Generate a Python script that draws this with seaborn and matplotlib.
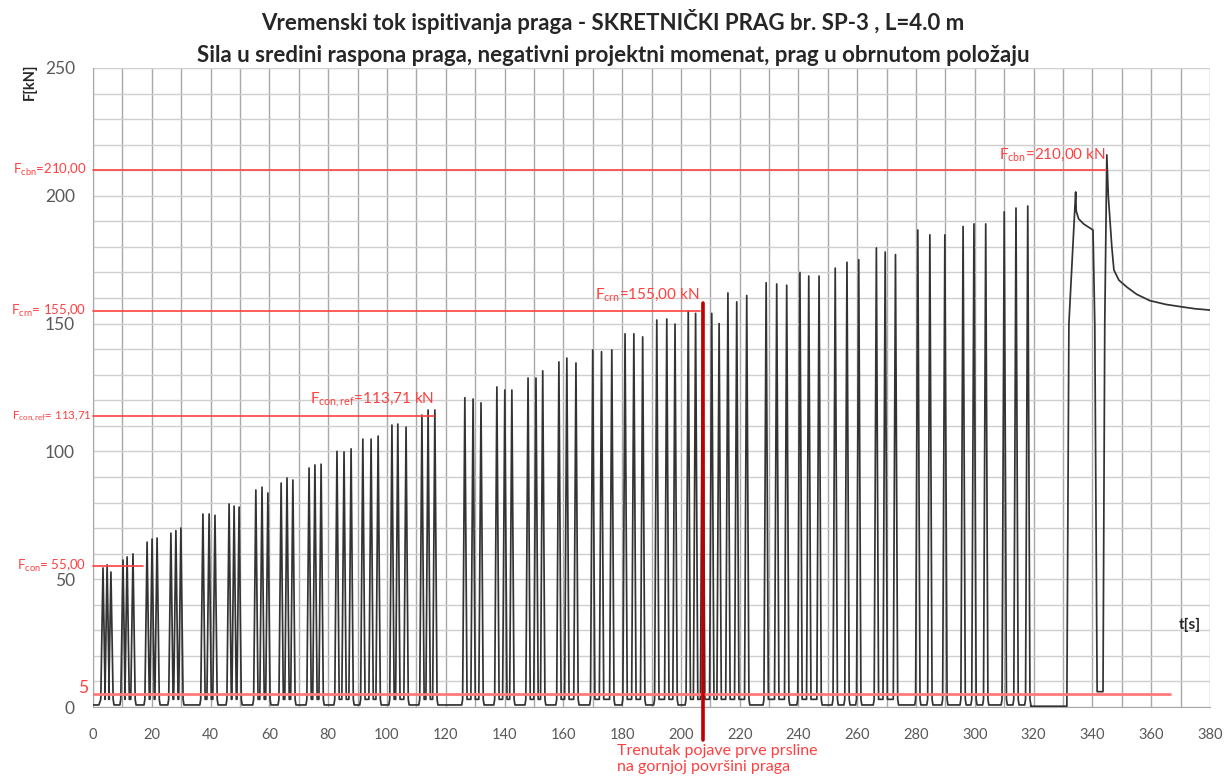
import numpy as np
import pandas as pd
import matplotlib
matplotlib.use("Agg")
import matplotlib.pyplot as plt
import seaborn as sns

# vrhovi ciklusa (t [s], F [kN]) - po tri ciklusa u svakoj grupi
peak_t = [3.4, 4.8, 6.1, 10.2, 11.6, 13.6, 18.4, 20.1, 21.8, 26.5, 28.2, 29.9,
          37.4, 39.5, 41.5, 46.3, 48.0, 49.7, 55.4, 57.5, 59.5, 64.0, 66.0, 68.0,
          73.5, 75.5, 77.6, 83.0, 85.4, 87.8, 91.8, 94.6, 97.0, 101.7, 103.7, 106.5,
          111.9, 114.0, 116.3, 126.5, 129.3, 132.0, 137.4, 140.1, 142.5,
          148.0, 150.7, 153.0, 158.5, 161.2, 164.3, 170.0, 173.0, 176.5,
          181.0, 184.0, 187.0, 191.8, 195.2, 198.0, 202.5, 205.0, 207.4,
          210.5, 213.0, 216.0, 219.0, 222.4, 229.0, 232.6, 236.0,
          240.5, 243.5, 247.0, 252.5, 256.5, 260.5, 266.5, 269.5, 273.0,
          280.6, 284.7, 289.8, 296.0, 299.7, 303.7, 310.0, 314.0, 318.0]
peak_f = [54.4, 55.6, 52.8, 57.5, 58.7, 59.9, 64.5, 65.7, 66.1, 68.0, 69.0, 70.0,
          75.5, 75.5, 75.0, 79.4, 78.6, 78.2, 84.9, 86.0, 83.7, 87.6, 89.6, 88.8,
          93.5, 94.7, 95.0, 100.0, 99.8, 101.0, 104.8, 104.8, 106.0, 110.3, 110.7, 109.5,
          114.2, 116.2, 116.2, 121.0, 120.5, 119.0, 125.2, 124.0, 124.0,
          128.7, 128.7, 131.5, 135.0, 136.5, 134.6, 139.7, 139.0, 139.7,
          146.0, 146.0, 144.8, 151.4, 151.8, 149.8, 155.0, 154.0, 158.0,
          154.0, 150.0, 162.0, 158.5, 161.0, 166.0, 165.5, 165.0,
          170.0, 168.6, 168.6, 171.7, 174.0, 175.0, 179.6, 178.0, 177.0,
          186.6, 184.7, 184.7, 188.0, 189.0, 189.0, 193.7, 195.2, 196.0]

# zavrsni dio - staticko opterecenje do loma
tail_t = [319.0, 331.3, 332.0, 334.3, 334.5, 335.3, 337.0, 340.2, 340.8, 341.6,
          343.6, 344.2, 344.9, 345.4, 346.6, 347.3, 349.0, 351.7, 355.0, 359.5,
          365.0, 370.7, 375.0, 380.0]
tail_f = [0.3, 0.3, 150.0, 201.5, 194.0, 191.0, 189.0, 186.6, 150.0, 6.0,
          6.0, 150.0, 216.0, 200.0, 180.0, 171.0, 167.0, 164.3, 161.5, 159.0,
          157.5, 156.5, 155.8, 155.3]

# referentne sile
ref_f = [210.0, 155.0, 113.71, 55.0]
ref_end = [344.5, 206.5, 116.0, 17.0]
ref_left = ["F$_\\mathrm{cbn}$=210,00", "F$_\\mathrm{crn}$= 155,00",
            "F$_\\mathrm{con,ref}$= 113,71", "F$_\\mathrm{con}$= 55,00"]
ref_left_x = [-2.3, -2.3, -0.4, -2.3]
ref_left_size = [9.5, 9.5, 8.3, 9.5]
ref_in = ["F$_\\mathrm{cbn}$=210,00 kN", "F$_\\mathrm{crn}$=155,00 kN",
          "F$_\\mathrm{con,ref}$=113,71 kN", None]
crack_t = 207.4

# --- slaganje vremenskog toka iz vrhova ---
rise = 0.75
valley = 3.0
base = 0.8
ts, fs = [0.0, 2.0], [base, base]
prev = None
for t, f in zip(peak_t, peak_f):
    if prev is not None and t - prev > 3.6:
        ts += [prev + rise + 0.3, t - rise - 0.3]
        fs += [base, base]
    ts += [t - rise, t, t + rise]
    fs += [valley, f, valley]
    prev = t
ts += [prev + rise + 0.3]
fs += [base]
ts += tail_t
fs += tail_f
df = pd.DataFrame({"t": ts, "F": fs})

sns.set_style("white")
plt.rcParams["font.family"] = ["Lato", "DejaVu Sans"]
plt.rcParams["mathtext.fontset"] = "custom"
plt.rcParams["mathtext.rm"] = "Lato"
plt.rcParams["mathtext.it"] = "Lato:italic"
plt.rcParams["mathtext.bf"] = "Lato:bold"

fig = plt.figure(figsize=(12.26, 7.8), dpi=100)
ax = fig.add_axes([93 / 1226, 1 - 707 / 780, (1210 - 93) / 1226, (707 - 68) / 780])

red = "#ff4040"
sns.lineplot(data=df, x="t", y="F", sort=False, estimator=None,
             color="#333333", linewidth=1.25, ax=ax, zorder=3)

ax.set_xlim(0, 380)
ax.set_ylim(0, 250)
ax.set_xticks(np.arange(0, 381, 20))
ax.set_xticks(np.arange(0, 381, 10), minor=True)
ax.set_yticks(np.arange(0, 251, 50))
ax.set_yticks(np.arange(0, 251, 10), minor=True)
ax.grid(True, which="both", axis="x", color="#a8a8a8", linewidth=1.0)
ax.grid(True, which="both", axis="y", color="#cfcfcf", linewidth=1.0)
ax.set_axisbelow(True)
for s in ["top", "right"]:
    ax.spines[s].set_visible(False)
for s in ["left", "bottom"]:
    ax.spines[s].set_color("#a8a8a8")
ax.tick_params(axis="both", which="both", direction="out", length=5,
               color="#a8a8a8", colors="#595959")
ax.tick_params(axis="x", labelsize=10.5, pad=10)
ax.tick_params(axis="y", labelsize=12.5, pad=8)
ax.set_xlabel("")
ax.set_ylabel("")

# referentne linije
for f, e, lab, lx, lsz, lin in zip(ref_f, ref_end, ref_left, ref_left_x,
                                   ref_left_size, ref_in):
    ax.plot([0, e], [f, f], color=red, linewidth=1.2, zorder=4, clip_on=False)
    ax.text(lx, f, lab, color=red, fontsize=lsz, ha="right", va="center",
            clip_on=False)
    if lin is not None:
        ax.text(e, f + 3, lin, color=red, fontsize=11, ha="right", va="bottom")

ax.plot([0, 366.5], [5, 5], color="#ff7a7a", linewidth=2.0, zorder=4)
ax.text(-1.5, 7.5, "5", color=red, fontsize=12.5, ha="right", va="center")

# trenutak pojave prve prsline
ax.plot([crack_t, crack_t], [158, -13], color="#c00000", linewidth=2.6,
        zorder=5, clip_on=False)
ax.text(178.3, -14.5, "Trenutak pojave prve prsline\nna gornjoj površini praga",
        color=red, fontsize=11.5, ha="left", va="top", linespacing=1.2,
        clip_on=False)

ax.text(373, 32, "t[s]", fontsize=11, fontweight="bold", ha="center",
        va="center", color="#262626")
fig.text(30 / 1226, 1 - 82 / 780, "F[kN]", rotation=90, fontsize=10.5,
         fontweight="bold", ha="center", va="center", color="#262626")

fig.text(0.5, 1 - 22 / 780,
         "Vremenski tok ispitivanja praga - SKRETNIČKI PRAG br. SP-3 , L=4.0 m",
         ha="center", va="center", fontsize=16, fontweight="bold",
         color="#262626")
fig.text(0.5, 1 - 55 / 780,
         "Sila u sredini raspona praga, negativni projektni momenat, prag u obrnutom položaju",
         ha="center", va="center", fontsize=16, fontweight="bold",
         color="#262626")

fig.savefig("out.png", dpi=100)
